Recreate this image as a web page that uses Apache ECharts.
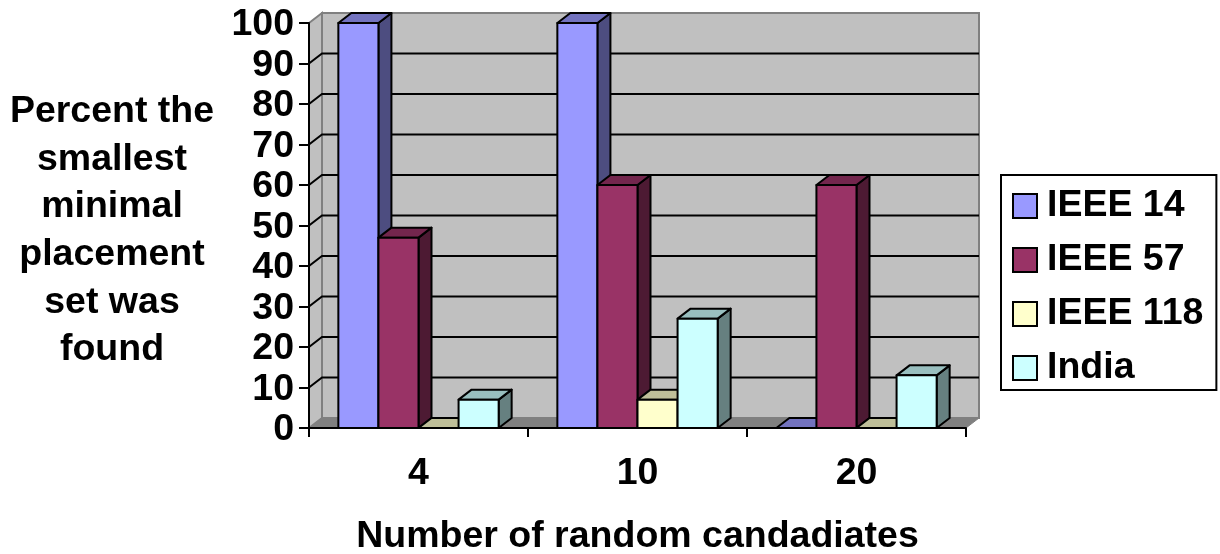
<!DOCTYPE html>
<html>
<head>
<meta charset="utf-8">
<title>Random candidates chart</title>
<style>
  html, body { margin: 0; padding: 0; background: #fff; }
  #chart { width: 1220px; height: 554px; }
</style>
<script src="https://cdn.jsdelivr.net/npm/echarts@6/dist/echarts.min.js"></script>
</head>
<body>
<div id="chart"></div>
<script>
const categories = ['4', '10', '20'];
const ieee14 = [100, 100, 0];
const ieee57 = [47, 60, 60];
const ieee118 = [0, 7, 0];
const india = [7, 27, 13];
const wallTicks = [0, 10, 20, 30, 40, 50, 60, 70, 80, 90, 100];

const FONT = '"Liberation Sans", Arial, sans-serif';
const FONT_SIZE = 37.5;
const DEPTH_X = 13;
const DEPTH_Y = -10;
const BAR_SHARE = 0.183;

// Back wall, side wall and floor, with gridlines running round them
function renderWall(params, api) {
  const value = api.value(0);
  const rect = params.coordSys;
  const right = rect.x + rect.width;
  const y = api.coord([0, value])[1];
  const y0 = api.coord([0, 0])[1];
  const yTop = api.coord([0, 100])[1];
  const children = [];
  const wallStroke = { stroke: '#808080', lineWidth: 2 };

  if (value === 0) {
    children.push({
      type: 'polygon',
      shape: { points: [[rect.x + DEPTH_X, yTop + DEPTH_Y], [right + DEPTH_X, yTop + DEPTH_Y], [right + DEPTH_X, y0 + DEPTH_Y], [rect.x + DEPTH_X, y0 + DEPTH_Y]] },
      style: { fill: '#c0c0c0', ...wallStroke },
    });
    children.push({
      type: 'polygon',
      shape: { points: [[rect.x, yTop], [rect.x + DEPTH_X, yTop + DEPTH_Y], [rect.x + DEPTH_X, y0 + DEPTH_Y], [rect.x, y0]] },
      style: { fill: '#c0c0c0', ...wallStroke },
    });
    children.push({
      type: 'polygon',
      shape: { points: [[rect.x, y0], [rect.x + DEPTH_X, y0 + DEPTH_Y], [right + DEPTH_X, y0 + DEPTH_Y], [right, y0]] },
      style: { fill: '#808080', stroke: '#808080', lineWidth: 1 },
    });
  } else if (value < 100) {
    children.push({
      type: 'polyline',
      shape: { points: [[rect.x, y], [rect.x + DEPTH_X, y + DEPTH_Y], [right + DEPTH_X, y + DEPTH_Y]] },
      style: { fill: 'none', stroke: '#000', lineWidth: 2 },
    });
  }
  return { type: 'group', children };
}

function barRenderer(slot, front, top, side) {
  return function (params, api) {
    const band = api.size([1, 0])[0];
    const barW = band * BAR_SHARE;
    const p = api.coord([api.value(0), api.value(1)]);
    const y0 = api.coord([api.value(0), 0])[1];
    const x1 = p[0] + (slot - 2) * barW;
    const x2 = x1 + barW;
    const y = p[1];
    const line = { stroke: '#000', lineWidth: 2, lineJoin: 'round' };
    return {
      type: 'group',
      children: [
        {
          type: 'polygon',
          shape: { points: [[x2, y], [x2 + DEPTH_X, y + DEPTH_Y], [x2 + DEPTH_X, y0 + DEPTH_Y], [x2, y0]] },
          style: { fill: side, ...line },
        },
        {
          type: 'polygon',
          shape: { points: [[x1, y], [x1 + DEPTH_X, y + DEPTH_Y], [x2 + DEPTH_X, y + DEPTH_Y], [x2, y]] },
          style: { fill: top, ...line },
        },
        {
          type: 'rect',
          shape: { x: x1, y: y, width: barW, height: y0 - y },
          style: { fill: front, ...line },
        },
      ],
    };
  };
}

function barSeries(name, values, slot, front, top, side) {
  return {
    name,
    type: 'custom',
    z: 3,
    itemStyle: { color: front, borderColor: '#000', borderWidth: 2 },
    renderItem: barRenderer(slot, front, top, side),
    encode: { x: 0, y: 1 },
    data: values.map((v, i) => [i, v]),
  };
}

const chart = echarts.init(document.getElementById('chart'), null, { renderer: 'canvas' });
chart.setOption({
  animation: false,
  textStyle: { fontFamily: FONT },
  // y axis caption sits in a title, axis name padding does not move multi-line text
  title: {
    text: 'Percent the\nsmallest\nminimal\nplacement\nset was\nfound',
    left: 112,
    top: 88,
    padding: 0,
    textAlign: 'center',
    textStyle: { color: '#000', fontSize: FONT_SIZE, fontWeight: 'bold', fontFamily: FONT, lineHeight: 47.6 },
  },
  grid: { left: 309, top: 23, width: 657, height: 405, containLabel: false, outerBoundsMode: 'none' },
  xAxis: {
    type: 'category',
    data: categories,
    z: 2,
    name: 'Number of random candadiates',
    nameLocation: 'middle',
    nameGap: 90,
    nameTextStyle: { color: '#000', fontSize: FONT_SIZE, fontWeight: 'bold', fontFamily: FONT },
    axisLine: { lineStyle: { color: '#000', width: 2 } },
    axisTick: { show: true, length: 9, lineStyle: { color: '#000', width: 2 } },
    axisLabel: { color: '#000', fontSize: FONT_SIZE, fontWeight: 'bold', fontFamily: FONT, margin: 27 },
    splitLine: { show: false },
  },
  yAxis: {
    type: 'value',
    min: 0,
    max: 100,
    interval: 10,
    z: 2,
    axisLine: { show: true, lineStyle: { color: '#000', width: 2 } },
    axisTick: { show: true, length: 10, lineStyle: { color: '#000', width: 2 } },
    axisLabel: {
      margin: 15,
      formatter: '{v|{value}}',
      rich: { v: { color: '#000', fontSize: FONT_SIZE, fontWeight: 'bold', fontFamily: FONT, padding: [4, 0, 0, 0] } },
    },
    splitLine: { show: false },
  },
  legend: {
    orient: 'vertical',
    left: 1001,
    top: 175,
    padding: [12, 13, 3, 11],
    backgroundColor: '#fff',
    borderColor: '#000',
    borderWidth: 2,
    itemWidth: 24,
    itemHeight: 24,
    itemGap: 16,
    icon: 'rect',
    itemStyle: { borderColor: '#000', borderWidth: 2 },
    selectedMode: false,
    textStyle: { color: '#000', fontSize: FONT_SIZE, fontWeight: 'bold', fontFamily: FONT, padding: [0, 0, 0, 5] },
    data: ['IEEE 14', 'IEEE 57', 'IEEE 118', 'India'],
  },
  series: [
    {
      type: 'custom',
      z: 1,
      silent: true,
      renderItem: renderWall,
      encode: { y: 0 },
      data: wallTicks.map((v) => [v]),
    },
    barSeries('IEEE 14', ieee14, 0, '#9999ff', '#7373bf', '#4d4d80'),
    barSeries('IEEE 57', ieee57, 1, '#993366', '#73264d', '#4d1a33'),
    barSeries('IEEE 118', ieee118, 2, '#ffffcc', '#bfbf99', '#808066'),
    barSeries('India', india, 3, '#ccffff', '#99bfbf', '#668080'),
  ],
});
</script>
</body>
</html>
